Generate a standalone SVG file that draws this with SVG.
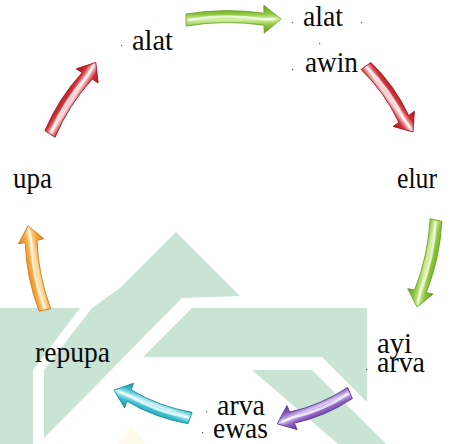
<svg xmlns="http://www.w3.org/2000/svg" width="452" height="444" viewBox="0 0 452 444">
<style>
.t{font-family:"Liberation Serif","Times New Roman",serif;font-size:30px;fill:#0a0a0a}
.wm{fill:#c9e3d5}
.hl{fill:none;stroke:#fff;stroke-opacity:0.7;stroke-width:2.5;stroke-linecap:round}
.dot{fill:#555}
</style>
<defs>
<linearGradient id="gGreen" x1="0" y1="0" x2="0" y2="1">
<stop offset="0" stop-color="#5d9a1c"/><stop offset="0.3" stop-color="#8cc63a"/><stop offset="0.5" stop-color="#d8f0a4"/><stop offset="0.72" stop-color="#8cc63a"/><stop offset="1" stop-color="#5d9a1c"/>
</linearGradient>
<linearGradient id="gRed" x1="0" y1="0" x2="0" y2="1">
<stop offset="0" stop-color="#a3111a"/><stop offset="0.3" stop-color="#d2313a"/><stop offset="0.5" stop-color="#fbe6e6"/><stop offset="0.72" stop-color="#d2313a"/><stop offset="1" stop-color="#a3111a"/>
</linearGradient>
<linearGradient id="gOrange" x1="0" y1="0" x2="0" y2="1">
<stop offset="0" stop-color="#d9801a"/><stop offset="0.3" stop-color="#f4a940"/><stop offset="0.5" stop-color="#fde4ad"/><stop offset="0.72" stop-color="#f4a940"/><stop offset="1" stop-color="#d9801a"/>
</linearGradient>
<linearGradient id="gPurple" x1="0" y1="0" x2="0" y2="1">
<stop offset="0" stop-color="#5e3396"/><stop offset="0.3" stop-color="#8d62c2"/><stop offset="0.5" stop-color="#dccbf2"/><stop offset="0.72" stop-color="#8d62c2"/><stop offset="1" stop-color="#5e3396"/>
</linearGradient>
<linearGradient id="gCyan" x1="0" y1="0" x2="0" y2="1">
<stop offset="0" stop-color="#17909f"/><stop offset="0.3" stop-color="#3dbfd2"/><stop offset="0.5" stop-color="#d0f4f8"/><stop offset="0.72" stop-color="#3dbfd2"/><stop offset="1" stop-color="#17909f"/>
</linearGradient>
</defs>
<rect width="452" height="444" fill="#fff"/>
<g id="watermark">
<polygon class="wm" points="0,308 80,308 33,370 33,444 0,444"/>
<polygon class="wm" points="176,232 240,296 182,298 44,438 44,370 92,308 120,288"/>
<polygon class="wm" points="192,308 367,308 367,402 322,357 143,357"/>
<polygon class="wm" points="252,370 312,370 386,444 338,444"/>
<polygon points="118,444 131,424 145,444" fill="#fdf8dc" opacity="0.5"/>
</g>
<g id="connectors">
<g transform="translate(186,20) rotate(-0.6)">
<path d="M0,-6 Q39,-12 78,-6 L78,-14 L95,0 L78,14 L78,6 Q39,0 0,6 Z" fill="url(#gGreen)" stroke="#6a9e2a" stroke-width="0.8"/>
<path class="hl" d="M3,0 Q39,-6 78,0 L88,0"/>
</g>
<g transform="translate(366,66) rotate(54.5)">
<path d="M0,-6 Q32.5,-12 65,-6 L65,-13 L81,0 L65,13 L65,6 Q32.5,0 0,6 Z" fill="url(#gRed)" stroke="#9e1018" stroke-width="0.8"/>
<path class="hl" d="M3,0 Q32.5,-6 65,0 L75,0"/>
</g>
<g transform="translate(436,220) rotate(102.3)">
<path d="M0,-6 Q36.5,-12 73,-6 L73,-13 L89,0 L73,13 L73,6 Q36.5,0 0,6 Z" fill="url(#gGreen)" stroke="#6a9e2a" stroke-width="0.8"/>
<path class="hl" d="M3,0 Q36.5,-6 73,0 L83,0"/>
</g>
<g transform="translate(350,393) rotate(157)">
<path d="M0,-6 Q31.5,-12 63,-6 L63,-13 L79,0 L63,13 L63,6 Q31.5,0 0,6 Z" fill="url(#gPurple)" stroke="#5a3290" stroke-width="0.8"/>
<path class="hl" d="M3,0 Q31.5,-6 63,0 L73,0"/>
</g>
<g transform="translate(190,418) rotate(200.2)">
<path d="M0,-6 Q32.5,-12 65,-6 L65,-13 L81,0 L65,13 L65,6 Q32.5,0 0,6 Z" fill="url(#gCyan)" stroke="#168a98" stroke-width="0.8"/>
<path class="hl" d="M3,0 Q32.5,-6 65,0 L75,0"/>
</g>
<g transform="translate(45,310) rotate(258.6)">
<path d="M0,-6 Q35,-12 70,-6 L70,-13 L86,0 L70,13 L70,6 Q35,0 0,6 Z" fill="url(#gOrange)" stroke="#c97a1a" stroke-width="0.8"/>
<path class="hl" d="M3,0 Q35,-6 70,0 L80,0"/>
</g>
<g transform="translate(50,134) rotate(302.6)">
<path d="M0,-6 Q34.5,-12 69,-6 L69,-13 L85,0 L69,13 L69,6 Q34.5,0 0,6 Z" fill="url(#gRed)" stroke="#9e1018" stroke-width="0.8"/>
<path class="hl" d="M3,0 Q34.5,-6 69,0 L79,0"/>
</g>
</g>
<g id="node-alat-left"><rect class="dot" x="121" y="45" width="1.2" height="1.2"/><text class="t" x="132" y="50" textLength="41" lengthAdjust="spacingAndGlyphs">alat</text></g>
<g id="node-alat-right"><rect class="dot" x="292" y="22" width="1.2" height="1.2"/><text class="t" x="303" y="26" textLength="40" lengthAdjust="spacingAndGlyphs">alat</text><rect class="dot" x="361" y="22" width="1.2" height="1.2"/><rect class="dot" x="319" y="43" width="1.2" height="1.2"/></g>
<g id="node-awin"><rect class="dot" x="292" y="69" width="1.2" height="1.2"/><text class="t" x="305" y="72" textLength="53" lengthAdjust="spacingAndGlyphs">awin</text></g>
<g id="node-elur"><text class="t" x="397" y="188" textLength="40" lengthAdjust="spacingAndGlyphs">elur</text></g>
<g id="node-ayi-arva"><rect class="dot" x="366" y="369" width="1.2" height="1.2"/><text class="t" x="377" y="353" textLength="35" lengthAdjust="spacingAndGlyphs">ayi</text><text class="t" x="377" y="372" textLength="48" lengthAdjust="spacingAndGlyphs">arva</text></g>
<g id="node-arva-ewas"><rect class="dot" x="206" y="411" width="1.2" height="1.2"/><rect class="dot" x="202" y="432" width="1.2" height="1.2"/><text class="t" x="217" y="415" textLength="48" lengthAdjust="spacingAndGlyphs">arva</text><text class="t" x="213" y="438" textLength="55" lengthAdjust="spacingAndGlyphs">ewas</text></g>
<g id="node-repupa"><text class="t" x="35" y="362" textLength="75" lengthAdjust="spacingAndGlyphs">repupa</text></g>
<g id="node-upa"><text class="t" x="13" y="188" textLength="39" lengthAdjust="spacingAndGlyphs">upa</text></g>
</svg>
